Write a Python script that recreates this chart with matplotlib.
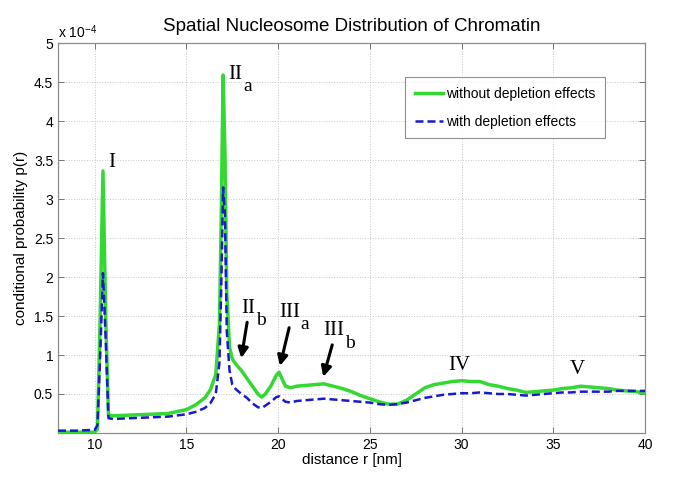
import matplotlib
matplotlib.use("Agg")
import matplotlib.pyplot as plt
from matplotlib.ticker import FixedLocator, FuncFormatter

# ---- data (p(r) in units of 1e-4) ----
r_nm = [8, 9, 10, 10.15, 10.3, 10.45, 10.6, 10.75, 11, 12, 13, 14, 15, 15.5, 16, 16.3,
        16.6, 16.8, 16.9, 17.0, 17.1, 17.2, 17.35, 17.5, 17.7, 18.0, 18.3, 18.6, 18.9,
        19.1, 19.3, 19.6, 19.9, 20.05, 20.2, 20.4, 20.7, 21.0, 21.5, 22.0, 22.5, 23.0,
        23.5, 24.0, 24.5, 25.0, 25.5, 26.0, 26.5, 27.0, 27.5, 28.0, 28.5, 29.0, 29.5,
        30.0, 30.5, 31.0, 31.5, 32.0, 32.5, 33.0, 33.5, 34.0, 34.5, 35.0, 35.5, 36.0,
        36.5, 37.0, 37.5, 38.0, 38.5, 39.0, 39.5, 40.0]

p_without = [0.01, 0.01, 0.01, 0.05, 1.5, 3.36, 1.5, 0.23, 0.22, 0.23, 0.24, 0.25, 0.3,
             0.36, 0.45, 0.55, 0.75, 1.4, 2.8, 4.59, 3.6, 1.8, 1.1, 0.95, 0.88, 0.8, 0.7,
             0.6, 0.5, 0.46, 0.5, 0.6, 0.74, 0.78, 0.7, 0.6, 0.58, 0.6, 0.61, 0.62, 0.63,
             0.6, 0.57, 0.53, 0.48, 0.44, 0.4, 0.37, 0.37, 0.42, 0.5, 0.58, 0.62, 0.64,
             0.66, 0.67, 0.66, 0.66, 0.62, 0.6, 0.57, 0.55, 0.52, 0.53, 0.54, 0.55, 0.57,
             0.58, 0.6, 0.59, 0.58, 0.57, 0.55, 0.54, 0.53, 0.51]

p_with = [0.03, 0.03, 0.04, 0.1, 1.0, 2.05, 1.2, 0.19, 0.18, 0.19, 0.2, 0.21, 0.24, 0.27,
          0.32, 0.38, 0.5, 0.9, 1.9, 3.15, 2.8, 1.3, 0.8, 0.62, 0.56, 0.5, 0.45, 0.38,
          0.33, 0.32, 0.35, 0.4, 0.46, 0.47, 0.44, 0.4, 0.39, 0.41, 0.42, 0.43, 0.44,
          0.43, 0.42, 0.41, 0.4, 0.39, 0.37, 0.36, 0.37, 0.39, 0.42, 0.45, 0.47, 0.49,
          0.5, 0.51, 0.51, 0.52, 0.51, 0.5, 0.5, 0.49, 0.48, 0.49, 0.5, 0.51, 0.52, 0.52,
          0.53, 0.53, 0.53, 0.53, 0.54, 0.54, 0.54, 0.54]

x_ticks = [10, 15, 20, 25, 30, 35, 40]
y_ticks = [0.5, 1, 1.5, 2, 2.5, 3, 3.5, 4, 4.5, 5]

# peak labels: (main, subscript, x, y)
peak_labels = [("I", "", 10.95, 3.47), ("II", "a", 17.3, 4.6), ("II", "b", 18.0, 1.6),
               ("III", "a", 20.05, 1.55), ("III", "b", 22.45, 1.31), ("IV", "", 29.9, 0.86),
               ("V", "", 36.3, 0.81)]
# arrows: (x_start, y_start, x_end, y_end)
arrows = [(18.31, 1.42, 17.99, 0.96), (20.6, 1.35, 20.1, 0.86), (22.95, 1.13, 22.46, 0.72)]

plt.rcParams['font.family'] = ['Liberation Sans', 'DejaVu Sans']
plt.rcParams['mathtext.fontset'] = 'stix'

fig = plt.figure(figsize=(6.85, 4.84), dpi=100)
ax = fig.add_axes([0.0847, 0.1054, 0.8569, 0.8056])

ax.plot(r_nm, p_without, color='#33d833', lw=2.5, label='without depletion effects', zorder=3)
ax.plot(r_nm, p_with, color='#1a1acc', lw=1.8, ls=(0, (3.2, 1.6)), label='with depletion effects', zorder=4)

ax.set_xlim(8, 40)
ax.set_ylim(0, 5)
ax.xaxis.set_major_locator(FixedLocator(x_ticks))
ax.yaxis.set_major_locator(FixedLocator(y_ticks))
ax.yaxis.set_major_formatter(FuncFormatter(lambda v, p: ('%g' % v)))
ax.grid(True, ls=':', color='0.78', lw=0.7)
ax.tick_params(direction='in', top=True, right=True, length=4, width=0.7, color='0.45',
               labelsize=10)
for s in ax.spines.values():
    s.set_color('0.55')
    s.set_linewidth(0.9)

ax.set_xlabel('distance r [nm]', fontsize=11, labelpad=1)
ax.set_ylabel('conditional probability p(r)', fontsize=11, labelpad=4)
ax.set_title('Spatial Nucleosome Distribution of Chromatin', fontsize=13.5, pad=9)
ax.text(0.0, 1.005, r'x 10$^{\mathregular{-4}}$', transform=ax.transAxes, fontsize=10,
        ha='left', va='bottom')

serif = ['Liberation Serif', 'DejaVu Serif']
fig.canvas.draw()
renderer = fig.canvas.get_renderer()
for main, sub, x, y in peak_labels:
    t = ax.text(x, y, main, fontsize=15, family=serif, ha='center' if not sub else 'left',
                va='center', zorder=5)
    if sub:
        bb = t.get_window_extent(renderer)
        w_pts = bb.width * 72.0 / fig.dpi
        ax.annotate(sub, xy=(x, y), xytext=(w_pts + 0.5, -9), textcoords='offset points',
                    fontsize=14, family=serif, ha='left', va='center', zorder=5)

for xs, ys, xe, ye in arrows:
    ax.annotate('', xy=(xe, ye), xytext=(xs, ys),
                arrowprops=dict(arrowstyle='-|>', lw=2.2, color='k', mutation_scale=15,
                                shrinkA=0, shrinkB=0), zorder=5)

leg = ax.legend(loc='upper right', bbox_to_anchor=(0.932, 0.913), fontsize=10, frameon=True,
                fancybox=False, edgecolor='0.45', handlelength=2.0, handletextpad=0.25,
                borderpad=0.7, labelspacing=1.0, borderaxespad=0)
leg.get_frame().set_linewidth(0.8)

fig.savefig('out.png', dpi=100)
